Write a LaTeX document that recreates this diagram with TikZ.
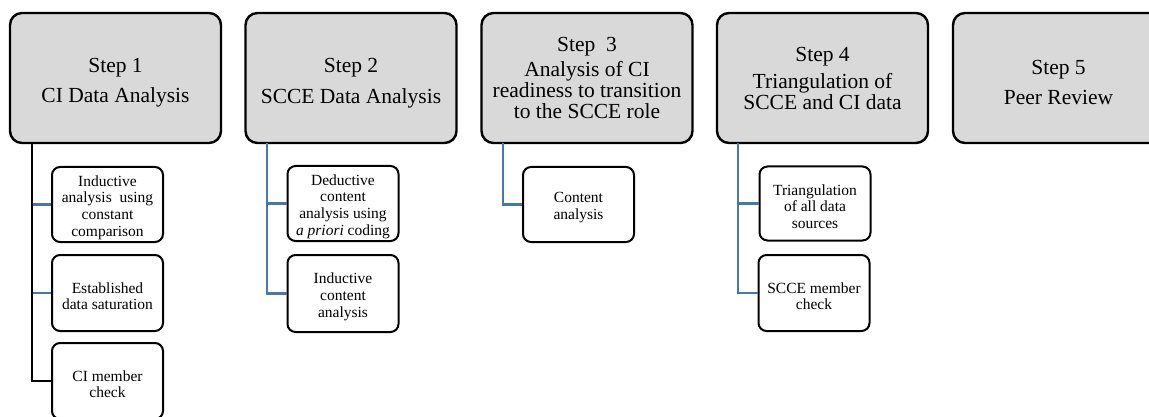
\documentclass[tikz,border=0pt]{standalone}
\usepackage{fontspec}
\setmainfont{Liberation Serif}
\definecolor{headfill}{RGB}{217,217,217}
\definecolor{linkblue}{RGB}{70,120,170}
\newcommand\toppad{\rule{0pt}{17pt}}
\begin{document}
\begin{tikzpicture}[x=1pt,y=-1pt,
  head/.style={draw=black, line width=2.4pt, fill=headfill, rounded corners=12pt,
    minimum width=211pt, minimum height=130pt, inner sep=0pt, align=center,
    font=\fontsize{21.5}{21}\selectfont},
  sub/.style={draw=black, line width=2pt, fill=white, rounded corners=8pt,
    minimum width=111pt, inner sep=0pt, align=center,
    font=\fontsize{15.5}{16.8}\selectfont},
  blink/.style={draw=linkblue, line width=2.5pt},
  klink/.style={draw=black, line width=2.5pt}]
\useasboundingbox (0,0) rectangle (1149,417);
\begin{scope}
\clip (0,0) rectangle (1149,417);
% headers
\node[head] (h1) at (115.5,78) {\rule{0pt}{24pt}Step 1\\[9pt]CI Data Analysis};
\node[head] (h2) at (351,78) {\rule{0pt}{24pt}Step 2\\[10pt]SCCE Data Analysis};
\node[head] (h3) at (587,78) {Step\ \ 3\\[4pt]Analysis of CI\\readiness to transition\\to the SCCE role};
\node[head] (h4) at (822.5,78) {Step 4\\[6pt]Triangulation of\\SCCE and CI data};
\node[head] (h5) at (1058.5,78) {\rule{0pt}{24pt}Step 5\\[9pt]Peer Review};
% vertical start points
\coordinate (s1) at (32,143);
\coordinate (s2) at (267,143);
\coordinate (s3) at (503,143);
\coordinate (s4) at (738,143);
% children
\node[sub, minimum height=75pt] (c11) at (107.5,204.5) {\toppad Inductive\\analysis\ \ using\\constant\\comparison};
\node[sub, minimum height=76pt] (c12) at (107.5,293) {\toppad Established\\data saturation};
\node[sub, minimum height=76pt] (c13) at (107.5,381) {\toppad CI member\\check};
\node[sub, minimum height=75pt] (c21) at (343,203.5) {\toppad Deductive\\content\\analysis using\\\textit{a priori} coding};
\node[sub, minimum height=77pt] (c22) at (343,293.5) {\toppad Inductive\\content\\analysis};
\node[sub, minimum height=75pt] (c31) at (578.5,204.5) {\toppad Content\\analysis};
\node[sub, minimum height=74pt] (c41) at (815,203.5) {\toppad Triangulation\\of all data\\sources};
\node[sub, minimum height=76pt] (c42) at (814,293) {\toppad SCCE member\\check};
% connectors
\draw[blink] (s1) |- (c11.west);
\draw[blink] (s1) |- (c12.west);
\draw[klink] (s1) |- (c13.west);
\draw[blink] (s2) |- (c21.west);
\draw[blink] (s2) |- (c22.west);
\draw[blink] (s3) |- (c31.west);
\draw[blink] (s4) |- (c41.west);
\draw[blink] (s4) |- (c42.west);
\end{scope}
\end{tikzpicture}
\end{document}
